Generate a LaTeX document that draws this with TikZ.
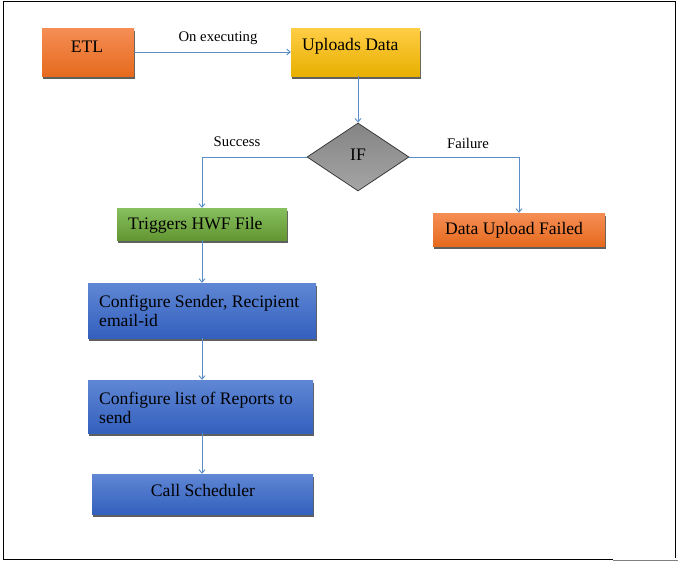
\documentclass[tikz,border=0pt]{standalone}
\usepackage{fontspec}
\setmainfont{Liberation Serif}
\usetikzlibrary{shapes.geometric,arrows.meta,shadows}
\definecolor{orT}{RGB}{245,142,85}
\definecolor{orB}{RGB}{230,106,30}
\definecolor{yeT}{RGB}{255,205,70}
\definecolor{yeB}{RGB}{232,176,0}
\definecolor{grT}{RGB}{135,192,95}
\definecolor{grB}{RGB}{98,150,50}
\definecolor{blT}{RGB}{95,135,212}
\definecolor{blB}{RGB}{52,96,190}
\definecolor{dgT}{RGB}{132,132,132}
\definecolor{dgB}{RGB}{165,165,165}
\definecolor{lnc}{RGB}{90,140,200}
\definecolor{shd}{RGB}{95,95,95}
\tikzset{
  boxbase/.style={rectangle, inner sep=0pt, draw=none,
    drop shadow={shadow xshift=1pt, shadow yshift=-2.5pt, fill=shd, opacity=1}},
  obox/.style={boxbase, top color=orT, bottom color=orB},
  ybox/.style={boxbase, top color=yeT, bottom color=yeB},
  gbox/.style={boxbase, top color=grT, bottom color=grB},
  bbox/.style={boxbase, top color=blT, bottom color=blB},
  btxt/.style={font=\fontsize{17.6}{19.5}\selectfont, inner sep=0pt, align=left},
  ltxt/.style={font=\fontsize{14.7}{17}\selectfont, inner sep=0pt},
  conn/.style={draw=lnc, line width=0.9pt, -{Straight Barb[length=3.5pt,width=6pt]}}
}
\begin{document}
\begin{tikzpicture}[x=1pt,y=-1pt]
\useasboundingbox (0,0) rectangle (678,562);
% frame
\draw[black, line width=1pt] (613,559) -- (3,559) -- (3,1.5) -- (675,1.5) -- (675,558);
\draw[gray, line width=1pt] (613,560) -- (678,560);
% boxes
\node[obox, minimum width=92pt, minimum height=48pt] (etl) at (88,52) {};
\node[ybox, minimum width=129pt, minimum height=48pt] (up) at (355.5,52) {};
\node[diamond, inner sep=0pt, minimum width=102pt, minimum height=68pt, draw={rgb,255:red,60;green,60;blue,60}, line width=0.8pt, top color=dgT, bottom color=dgB] (if) at (358,157) {};
\node[gbox, minimum width=170pt, minimum height=32pt] (trig) at (202,224) {};
\node[obox, minimum width=172pt, minimum height=33pt] (fail) at (519,229.5) {};
\node[bbox, minimum width=228pt, minimum height=55pt] (cs) at (202,310.5) {};
\node[bbox, minimum width=225pt, minimum height=53pt] (cl) at (200.5,406.5) {};
\node[bbox, minimum width=221pt, minimum height=40pt] (call) at (202.5,494) {};
% texts
\node[btxt] (tetl) at (87,46.5) {ETL};
\node[btxt, anchor=west] (tup) at (302,46.5) {Uploads Data};
\node[btxt] (tif) at (358,154.5) {IF};
\node[btxt, anchor=west] (ttrig) at (128,225.5) {Triggers HWF File};
\node[btxt, anchor=west] (tfail) at (445,230) {Data Upload Failed};
\node[btxt, anchor=west] (tcs) at (99,311) {Configure Sender, Recipient\\email-id};
\node[btxt, anchor=west] (tcl) at (99,408) {Configure list of Reports to\\send};
\node[btxt] (tcall) at (203,490.5) {Call Scheduler};
\node[ltxt] (lexec) at (218,38) {On executing};
\node[ltxt] (lsucc) at (237,142) {Success};
\node[ltxt] (lfail) at (468,143) {Failure};
% connectors
\draw[conn] (etl.east) -- (up.west);
\draw[conn] (if.north |- up.south) -- (if.north);
\draw[conn] (if.west) -| (trig.north);
\draw[conn] (if.east) -| (fail.north);
\draw[conn] (trig.south) -- (trig.south |- cs.north);
\draw[conn] (cs.south) -- (cs.south |- cl.north);
\draw[conn] (cs.south |- cl.south) -- (cs.south |- call.north);
\end{tikzpicture}
\end{document}
